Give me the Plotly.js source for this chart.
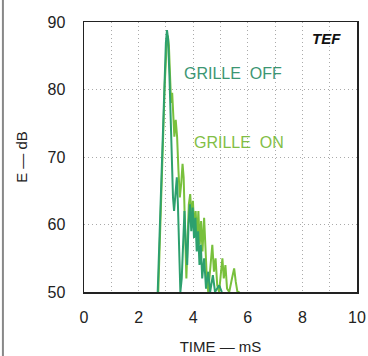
<!DOCTYPE html>
<html>
<head>
<meta charset="utf-8">
<script src="https://cdn.plot.ly/plotly-3.0.1.min.js"></script>
<style>html,body{margin:0;padding:0;background:#fff;}#chart{width:368px;height:356px;}</style>
</head>
<body>
<div id="chart"></div>
<script>
// GRILLE OFF (teal) energy-time curve
const offTime = [2.70,2.76,2.82,2.88,2.94,3.00,3.04,3.08,3.13,3.18,3.22,3.26,3.30,3.35,3.40,3.44,3.48,3.53,3.58,3.63,3.68,3.73,3.78,3.83,3.88,3.93,3.98,4.03,4.08,4.13,4.18,4.23,4.28,4.33,4.40,4.47,4.55,4.62,4.72,4.80,4.95,5.05];
const offDb   = [50,58,66,74,81,87,88.8,87.5,82,75,69,64,62,65,67,63,57,50,52,58,62,57,54,60,63,59,62.5,58,61,56,59,54,57,52,55,50.5,53,50,52.5,50,51,50];
// GRILLE ON (yellow-green) energy-time curve
const onTime = [2.72,2.78,2.84,2.90,2.96,3.02,3.07,3.11,3.15,3.19,3.23,3.27,3.31,3.36,3.41,3.46,3.51,3.56,3.61,3.65,3.70,3.75,3.79,3.84,3.89,3.94,3.99,4.04,4.09,4.14,4.19,4.24,4.29,4.34,4.40,4.45,4.50,4.55,4.62,4.70,4.76,4.82,4.88,4.95,5.02,5.07,5.12,5.18,5.24,5.32,5.42,5.50,5.56,5.62,5.70];
const onDb   = [50,58,66,74,81,86,88,86.5,82,78,79.5,77,73,75.5,73,68,64,66,69,67,60,52,57,63,64.5,61,63.5,59,62,58,62,57,60.5,56,61,55,52,50,54,57,53,55,51,50,53,55,52,54,50.5,50,52,53.5,51.5,50,50];
const xTicks = [0,2,4,6,8,10];
const yTicks = [50,60,70,80,90];
const labels = [
  {text:'GRILLE&nbsp; OFF', t:3.59, db:82.4, color:'rgb(60,150,115)'},
  {text:'GRILLE&nbsp; ON',  t:3.96, db:72.2, color:'rgb(130,190,70)'}
];

const font = 'Liberation Sans, Arial, sans-serif';
const traces = [
  {x:onTime, y:onDb, type:'scatter', mode:'lines', line:{color:'rgb(120,192,60)', width:2}, hoverinfo:'skip'},
  {x:offTime, y:offDb, type:'scatter', mode:'lines', line:{color:'rgb(45,160,110)', width:2}, hoverinfo:'skip'}
];
const annotations = labels.map(l => ({
  x:l.t, y:l.db, xref:'x', yref:'y', text:l.text, showarrow:false,
  xanchor:'left', yanchor:'middle', font:{family:font, size:16, color:l.color}
}));
annotations.push({x:0.947, y:0.978, xref:'paper', yref:'paper', text:'<b><i>TEF</i></b>', showarrow:false,
  xanchor:'right', yanchor:'top', font:{family:font, size:15, color:'#111'}});

const gridDash = '1px,3px';
const layout = {
  width:368, height:356,
  margin:{l:84, r:11, t:22, b:64},
  paper_bgcolor:'#fff', plot_bgcolor:'#fff',
  showlegend:false,
  xaxis:{range:[0,10], tickvals:xTicks, ticktext:xTicks.map(String), showline:true, linecolor:'#222', linewidth:1.5, mirror:true,
    showgrid:false, zeroline:false, ticks:'', ticklabelstandoff:10,
    tickfont:{family:font, size:16, color:'#222'},
    minor:{dtick:1, tick0:0, showgrid:true, gridcolor:'#aaa', griddash:gridDash, gridwidth:1},
    title:{text:'TIME — mS', font:{family:font, size:15, color:'#222'}, standoff:17}},
  yaxis:{range:[50,90], tickvals:yTicks, ticktext:yTicks.map(String), showline:true, linecolor:'#222', linewidth:1.5, mirror:true,
    showgrid:true, gridcolor:'#aaa', griddash:gridDash, gridwidth:1, zeroline:false, ticks:'', ticklabelstandoff:14,
    tickfont:{family:font, size:16, color:'#222'},
    title:{text:'E — dB', font:{family:font, size:15, color:'#222'}, standoff:16}},
  annotations:annotations,
  shapes:[{type:'line', xref:'paper', yref:'paper', x0:-0.297, x1:-0.297, y0:-0.24, y1:1.09, line:{color:'#888', width:2}}]
};
Plotly.newPlot('chart', traces, layout, {staticPlot:true, displayModeBar:false});
</script>
</body>
</html>
